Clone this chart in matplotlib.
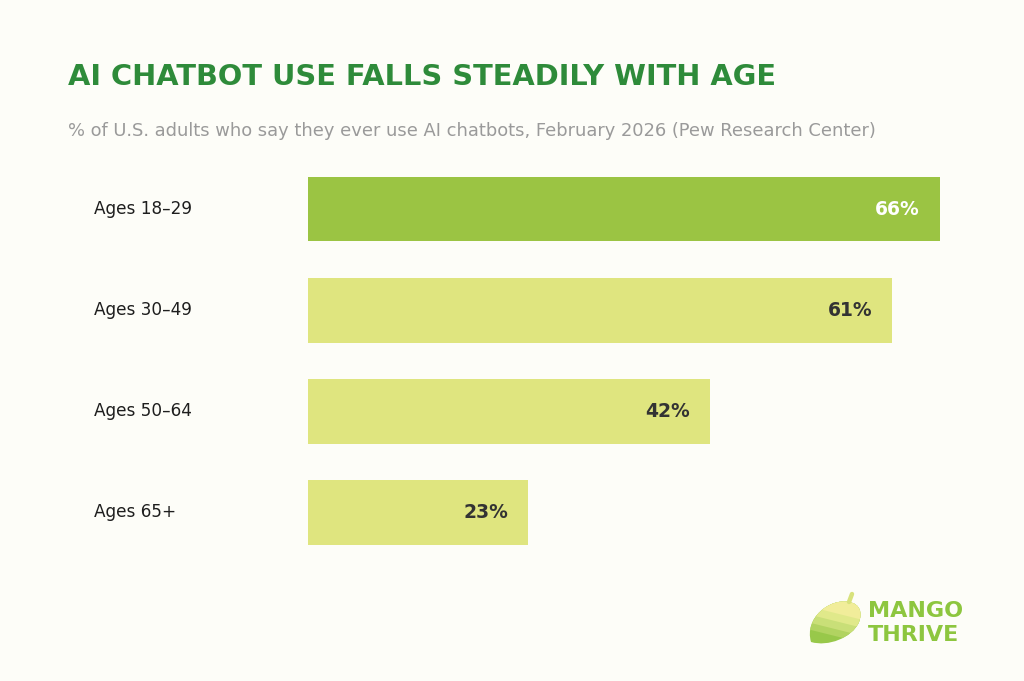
import matplotlib.pyplot as plt
from matplotlib.patches import Polygon, PathPatch
from matplotlib.path import Path

# data
groups = ["Ages 18\u201329", "Ages 30\u201349", "Ages 50\u201364", "Ages 65+"]
values = [66, 61, 42, 23]
bar_colors = ["#9bc443", "#dfe57f", "#dfe57f", "#dfe57f"]
label_colors = ["#ffffff", "#333333", "#333333", "#333333"]

BG = "#fdfdf8"
W, H = 1024, 681

fig = plt.figure(figsize=(W / 100, H / 100), dpi=100, facecolor=BG)

# axes placed in pixels so that 0% sits at x=308 and 66% at x=940
ax_left, ax_right = 308, 940
ax_top, ax_bot = 158.5, 563
ax = fig.add_axes([ax_left / W, 1 - ax_bot / H, (ax_right - ax_left) / W, (ax_bot - ax_top) / H])
ax.set_facecolor("none")
ax.set_xlim(0, 66)
ax.set_ylim(3.5, -0.5)
ax.axis("off")

ypos = range(len(groups))
ax.barh(ypos, values, height=0.64, color=bar_colors, left=0)

px = 66 / (ax_right - ax_left)  # data units per pixel
for y, v, c, g in zip(ypos, values, label_colors, groups):
    ax.text(v - 20 * px, y, f"{v}%", ha="right", va="center", color=c,
            fontsize=13.5, fontweight="bold", family="DejaVu Sans")
    ax.text(-(ax_left - 94) * px, y, g, ha="left", va="center", color="#1e1e1e",
            fontsize=12.2, family="DejaVu Sans", clip_on=False)

# title and subtitle
fig.text(68 / W, 1 - 77 / H, "AI CHATBOT USE FALLS STEADILY WITH AGE", ha="left", va="center",
         color="#2e8b3a", fontsize=20.8, fontweight="bold", family="DejaVu Sans")
fig.text(68 / W, 1 - 131 / H,
         "% of U.S. adults who say they ever use AI chatbots, February 2026 (Pew Research Center)",
         ha="left", va="center", color="#9a9a9a", fontsize=12.9, family="DejaVu Sans")

# logo: a striped mango
lax = fig.add_axes([800 / W, 1 - 650 / H, 70 / W, 70 / H])
lax.set_xlim(0, 70)
lax.set_ylim(0, 70)
lax.axis("off")
lax.set_facecolor("none")
verts = [(11, 8), (4, 32), (30, 52), (49, 48),
         (61, 46), (62, 36), (59, 28),
         (52, 12), (28, 3), (11, 8)]
codes = [Path.MOVETO] + [Path.CURVE4] * 9
body = PathPatch(Path(verts, codes), facecolor="#98c84a", edgecolor="none")
lax.add_patch(body)
# bands from the darkest (largest) up to the palest (top)
stripes = ["#b1d361", "#c9df78", "#e0e98a", "#f1ed9a"]
cuts = [14, 21, 29, 37]
for sc, k in zip(stripes, cuts):
    poly = Polygon([(-10, k + 0.25 * 45), (80, k - 0.25 * 45), (80, 80), (-10, 80)],
                   facecolor=sc, edgecolor="none")
    lax.add_patch(poly)
    poly.set_clip_path(body)
lax.plot([49, 52], [48, 56], color="#d8e27c", lw=3.2, solid_capstyle="round")

fig.text(868 / W, 1 - 611 / H, "MANGO", ha="left", va="center", color="#8dc63f",
         fontsize=16, fontweight="bold", family="DejaVu Sans")
fig.text(868 / W, 1 - 635 / H, "THRIVE", ha="left", va="center", color="#8dc63f",
         fontsize=16, fontweight="bold", family="DejaVu Sans")

fig.savefig("out.png", dpi=100, facecolor=BG)
